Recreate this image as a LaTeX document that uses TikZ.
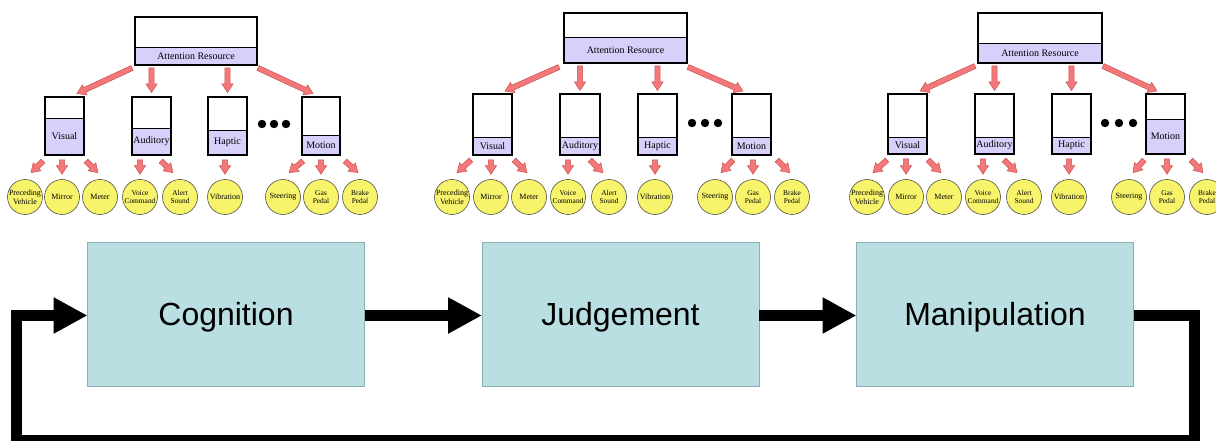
\documentclass[tikz,border=0pt]{standalone}
\usepackage{fontspec}
\setmainfont{Liberation Serif}
\newfontfamily\arialf{Liberation Sans}
\usetikzlibrary{calc,arrows.meta}

\definecolor{lav}{RGB}{216,208,250}
\definecolor{pinkfill}{RGB}{242,120,122}
\definecolor{pinkline}{RGB}{205,80,82}
\definecolor{leafy}{RGB}{247,244,108}
\definecolor{leafline}{RGB}{80,80,70}
\definecolor{stagefill}{RGB}{185,223,226}
\definecolor{stageline}{RGB}{140,175,180}

\tikzset{
  stage/.style={draw=stageline, fill=stagefill, line width=0.8pt, minimum width=277pt,
    minimum height=144pt, inner sep=0pt, outer sep=0pt, text height=23pt, text depth=0pt,
    font=\arialf\fontsize{32}{38}\selectfont},
  flow/.style={line width=11pt, line join=miter, -{Triangle[length=34pt,width=34pt]}},
  boxframe/.style={draw=black, line width=1.3pt, inner sep=0pt, outer sep=0pt,
    minimum width=#1},
  boxframe/.default=39pt,
  tag/.style={draw=black, fill=lav, line width=0.7pt, inner sep=0pt, outer sep=0pt,
    minimum width=#1, font=\fontsize{10}{12}\selectfont},
  tag/.default=39pt,
  leaf/.style={circle, draw=leafline, fill=leafy, line width=0.6pt, minimum size=35pt,
    inner sep=0pt},
  leaftxt/.style={align=center, inner sep=0pt, font=\fontsize{8}{9}\selectfont},
  leafsmall/.style={align=center, inner sep=0pt, font=\fontsize{7.4}{8.6}\selectfont},
  blockarrow/.style={fill=pinkfill, draw=pinkline, line width=0.5pt, line join=miter},
  ellip/.style={fill=black},
}

% fat pink arrow between two points
\newcommand\barrow[2]{%
  \coordinate (ba-s) at #1;
  \coordinate (ba-e) at #2;
  \coordinate (ba-h) at ($(ba-e)!8.5pt!(ba-s)$);
  \path[blockarrow]
    ($(ba-s)!2.6pt!90:(ba-e)$) -- ($(ba-h)!2.6pt!-90:(ba-s)$) --
    ($(ba-h)!5.6pt!-90:(ba-s)$) -- (ba-e) --
    ($(ba-h)!5.6pt!90:(ba-s)$) -- ($(ba-h)!2.6pt!90:(ba-s)$) --
    ($(ba-s)!2.6pt!-90:(ba-e)$) -- cycle;}

\begin{document}
\begin{tikzpicture}[x=1pt,y=-1pt]
\useasboundingbox (0,0) rectangle (1216,441);

% ---------------- processing stages ----------------
\node[stage] (cog) at (226,314) {Cognition};
\node[stage] (jud) at (620.5,314) {Judgement};
\node[stage] (man) at (995,314) {Manipulation};

\draw[flow] ([yshift=-1.5pt]cog.east) -- ([yshift=-1.5pt]jud.west);
\draw[flow] ([yshift=-1.5pt]jud.east) -- ([yshift=-1.5pt]man.west);
\coordinate (rc) at (1194,440);
\coordinate (lc) at (16.5,440);
\draw[flow] ([yshift=-1.5pt]man.east) -| (rc) -- (lc) |- ([yshift=-1.5pt]cog.west);

% ---------------- attention tree 1 ----------------
\node[tag=122pt, minimum height=18pt] (AR1t) at (196,56) {Attention Resource};
\node[boxframe=122pt, minimum height=48pt] (AR1) at (196,41) {};

\node[tag, minimum height=37pt] (V1t) at (64.5,136.5) {Visual};
\node[boxframe, minimum height=58pt] (V1) at (64.5,126) {};
\node[tag, minimum height=27pt] (A1t) at (151.5,141.5) {Auditory};
\node[boxframe, minimum height=58pt] (A1) at (151.5,126) {};
\node[tag, minimum height=25pt] (H1t) at (227.5,142.5) {Haptic};
\node[boxframe, minimum height=58pt] (H1) at (227.5,126) {};
\node[tag=38pt, minimum height=20pt] (M1t) at (321,145) {Motion};
\node[boxframe=38pt, minimum height=58pt] (M1) at (321,126) {};

\fill[ellip] (262,124) circle (4.2) (274,124) circle (4.2) (286,124) circle (4.2);

\node[leaf] (P1) at (25,197) {};   \node[leaftxt] at (P1) {Preceding\\Vehicle};
\node[leaf] (Mi1) at (62,197) {};  \node[leaftxt] at (Mi1) {Mirror};
\node[leaf] (Me1) at (100,197) {}; \node[leaftxt] at (Me1) {Meter};
\node[leaf] (VC1) at (140,197) {}; \node[leafsmall] at (VC1) {Voice\\Command};
\node[leaf] (AS1) at (180,197) {}; \node[leafsmall] at (AS1) {Alert\\Sound};
\node[leaf] (Vi1) at (225,197) {}; \node[leaftxt] at (Vi1) {Vibration};
\node[leaf] (St1) at (283,197) {}; \node[leaftxt] at (St1) {Steering};
\node[leaf] (GP1) at (321,197) {}; \node[leafsmall] at (GP1) {Gas\\Pedal};
\node[leaf] (BP1) at (360,197) {}; \node[leafsmall] at (BP1) {Brake\\Pedal};

\barrow{($(AR1.south west)+(-3,3)$)}{($(V1.north east)+(-7,-3.5)$)}
\barrow{($(A1.north |- AR1.south)+(0,3)$)}{($(A1.north)+(0,-4.5)$)}
\barrow{($(H1.north |- AR1.south)+(0,3)$)}{($(H1.north)+(0,-4.5)$)}
\barrow{($(AR1.south east)+(1,3)$)}{($(M1.north west)+(11,-3.5)$)}

\barrow{($(V1.south west)+(-2,6)$)}{($(P1.north)+(6,-6.5)$)}
\barrow{($(Mi1.north |- V1.south)+(0,5)$)}{($(Mi1.north)+(0,-5)$)}
\barrow{($(V1.south east)+(2,6)$)}{($(Me1.north)+(-2,-6.5)$)}
\barrow{($(VC1.north |- A1.south)+(0,5)$)}{($(VC1.north)+(0,-5)$)}
\barrow{($(A1.south east)+(-10,6)$)}{($(AS1.north)+(-7,-6.5)$)}
\barrow{($(Vi1.north |- H1.south)+(0,5)$)}{($(Vi1.north)+(0,-5)$)}
\barrow{($(M1.south west)+(1,6)$)}{($(St1.north)+(6,-6.5)$)}
\barrow{($(GP1.north |- M1.south)+(0,5)$)}{($(GP1.north)+(0,-5)$)}
\barrow{($(M1.south east)+(5,6)$)}{($(BP1.north)+(-2,-6.5)$)}

% ---------------- attention tree 2 ----------------
\node[tag=123pt, minimum height=26pt] (AR2t) at (625.5,50) {Attention Resource};
\node[boxframe=123pt, minimum height=50pt] (AR2) at (625.5,38) {};

\node[tag, minimum height=18pt] (V2t) at (492.5,146) {Visual};
\node[boxframe, minimum height=61pt] (V2) at (492.5,124.5) {};
\node[tag=40pt, minimum height=18pt] (A2t) at (580,146) {Auditory};
\node[boxframe=40pt, minimum height=61pt] (A2) at (580,124.5) {};
\node[tag, minimum height=18pt] (H2t) at (657.5,146) {Haptic};
\node[boxframe, minimum height=61pt] (H2) at (657.5,124.5) {};
\node[tag, minimum height=18pt] (M2t) at (751.5,146) {Motion};
\node[boxframe, minimum height=61pt] (M2) at (751.5,124.5) {};

\fill[ellip] (692,123) circle (4.2) (705,123) circle (4.2) (718,123) circle (4.2);

\node[leaf] (P2) at (452,197) {};  \node[leaftxt] at (P2) {Preceding\\Vehicle};
\node[leaf] (Mi2) at (491,197) {}; \node[leaftxt] at (Mi2) {Mirror};
\node[leaf] (Me2) at (529,197) {}; \node[leaftxt] at (Me2) {Meter};
\node[leaf] (VC2) at (568,197) {}; \node[leafsmall] at (VC2) {Voice\\Command};
\node[leaf] (AS2) at (609,197) {}; \node[leafsmall] at (AS2) {Alert\\Sound};
\node[leaf] (Vi2) at (655,197) {}; \node[leaftxt] at (Vi2) {Vibration};
\node[leaf] (St2) at (715,197) {}; \node[leaftxt] at (St2) {Steering};
\node[leaf] (GP2) at (753,197) {}; \node[leafsmall] at (GP2) {Gas\\Pedal};
\node[leaf] (BP2) at (792,197) {}; \node[leafsmall] at (BP2) {Brake\\Pedal};

\barrow{($(AR2.south west)+(-5,4)$)}{($(V2.north east)+(-7,-3)$)}
\barrow{($(A2.north |- AR2.south)+(0,3)$)}{($(A2.north)+(0,-3.5)$)}
\barrow{($(H2.north |- AR2.south)+(0,3)$)}{($(H2.north)+(0,-3.5)$)}
\barrow{($(AR2.south east)+(1,4)$)}{($(M2.north west)+(11,-3)$)}

\barrow{($(V2.south west)+(-2,5)$)}{($(P2.north)+(5,-6.5)$)}
\barrow{($(Mi2.north |- V2.south)+(0,5)$)}{($(Mi2.north)+(0,-5)$)}
\barrow{($(V2.south east)+(2,5)$)}{($(Me2.north)+(-2,-6.5)$)}
\barrow{($(VC2.north |- A2.south)+(0,5)$)}{($(VC2.north)+(0,-5)$)}
\barrow{($(A2.south east)+(-10,5)$)}{($(AS2.north)+(-6,-6.5)$)}
\barrow{($(Vi2.north |- H2.south)+(0,5)$)}{($(Vi2.north)+(0,-5)$)}
\barrow{($(M2.south west)+(1,5)$)}{($(St2.north)+(6,-6.5)$)}
\barrow{($(GP2.north |- M2.south)+(0,5)$)}{($(GP2.north)+(0,-5)$)}
\barrow{($(M2.south east)+(6,5)$)}{($(BP2.north)+(-2,-6.5)$)}

% ---------------- attention tree 3 ----------------
\node[tag=124pt, minimum height=20pt] (AR3t) at (1040,53) {Attention Resource};
\node[boxframe=124pt, minimum height=50pt] (AR3) at (1040,38) {};

\node[tag, minimum height=17pt] (V3t) at (907.5,145.5) {Visual};
\node[boxframe, minimum height=60pt] (V3) at (907.5,124) {};
\node[tag, minimum height=17pt] (A3t) at (994.5,145.5) {Auditory};
\node[boxframe, minimum height=60pt] (A3) at (994.5,124) {};
\node[tag, minimum height=17pt] (H3t) at (1071.5,145.5) {Haptic};
\node[boxframe, minimum height=60pt] (H3) at (1071.5,124) {};
\node[tag, minimum height=35pt] (M3t) at (1165.5,136.5) {Motion};
\node[boxframe, minimum height=60pt] (M3) at (1165.5,124) {};

\fill[ellip] (1105,123) circle (4.2) (1119,123) circle (4.2) (1133,123) circle (4.2);

\node[leaf] (P3) at (867,197) {};   \node[leaftxt] at (P3) {Preceding\\Vehicle};
\node[leaf] (Mi3) at (906,197) {};  \node[leaftxt] at (Mi3) {Mirror};
\node[leaf] (Me3) at (944,197) {};  \node[leaftxt] at (Me3) {Meter};
\node[leaf] (VC3) at (983,197) {};  \node[leafsmall] at (VC3) {Voice\\Command};
\node[leaf] (AS3) at (1024,197) {}; \node[leafsmall] at (AS3) {Alert\\Sound};
\node[leaf] (Vi3) at (1069,197) {}; \node[leaftxt] at (Vi3) {Vibration};
\node[leaf] (St3) at (1129,197) {}; \node[leaftxt] at (St3) {Steering};
\node[leaf] (GP3) at (1167,197) {}; \node[leafsmall] at (GP3) {Gas\\Pedal};
\node[leaf] (BP3) at (1207,197) {}; \node[leafsmall] at (BP3) {Brake\\Pedal};

\barrow{($(AR3.south west)+(-3,3)$)}{($(V3.north east)+(-7,-3)$)}
\barrow{($(A3.north |- AR3.south)+(0,3)$)}{($(A3.north)+(0,-3.5)$)}
\barrow{($(H3.north |- AR3.south)+(0,3)$)}{($(H3.north)+(0,-3.5)$)}
\barrow{($(AR3.south east)+(1,3)$)}{($(M3.north west)+(11,-3)$)}

\barrow{($(V3.south west)+(-1,6)$)}{($(P3.north)+(6,-6.5)$)}
\barrow{($(Mi3.north |- V3.south)+(0,5)$)}{($(Mi3.north)+(0,-5)$)}
\barrow{($(V3.south east)+(1,6)$)}{($(Me3.north)+(-3,-6.5)$)}
\barrow{($(VC3.north |- A3.south)+(0,5)$)}{($(VC3.north)+(0,-5)$)}
\barrow{($(A3.south east)+(-10,6)$)}{($(AS3.north)+(-7,-6.5)$)}
\barrow{($(Vi3.north |- H3.south)+(0,5)$)}{($(Vi3.north)+(0,-5)$)}
\barrow{($(M3.south west)+(-2,6)$)}{($(St3.north)+(4,-6.5)$)}
\barrow{($(GP3.north |- M3.south)+(0,5)$)}{($(GP3.north)+(0,-5)$)}
\barrow{($(M3.south east)+(6,6)$)}{($(BP3.north)+(-4,-6.5)$)}
\end{tikzpicture}
\end{document}
